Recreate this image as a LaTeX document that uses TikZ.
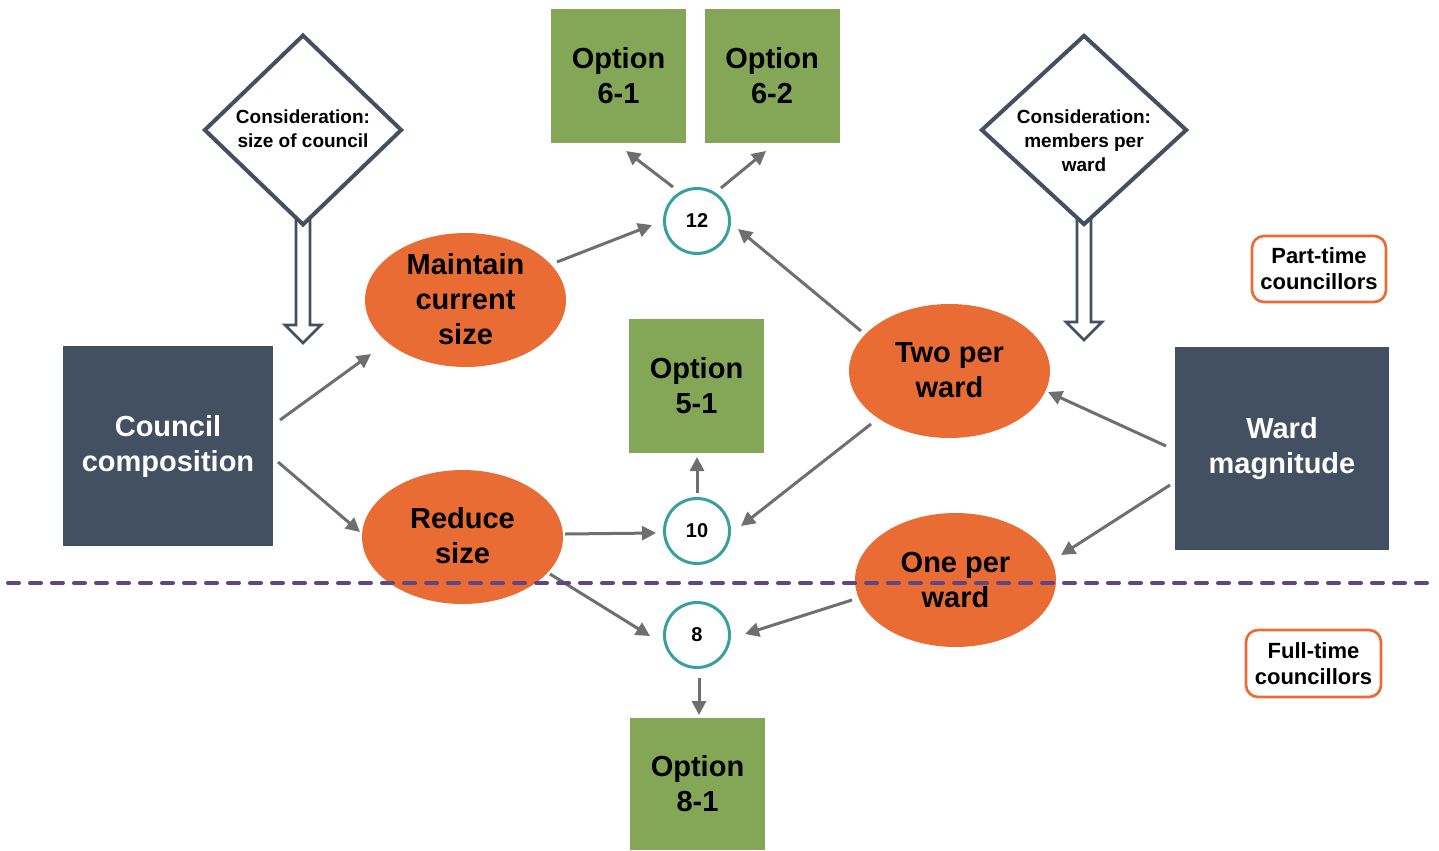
\documentclass[tikz,border=0pt]{standalone}
\usepackage{fontspec}
\setmainfont{Liberation Sans}
\usetikzlibrary{shapes.geometric,arrows.meta}
\definecolor{slate}{HTML}{435062}
\definecolor{optgreen}{HTML}{83A756}
\definecolor{oran}{HTML}{E96C35}
\definecolor{tealc}{HTML}{3A9FA0}
\definecolor{arrgray}{HTML}{6F6F6F}
\definecolor{purp}{HTML}{5D4785}
\tikzset{
  bigtext/.style={font=\bfseries\fontsize{21.75}{26.25}\selectfont, align=center, inner sep=0pt},
  slatebox/.style={rectangle, fill=slate, text=white, bigtext},
  optbox/.style={rectangle, fill=optgreen, text=black, bigtext, minimum width=101.25pt, minimum height=100.5pt},
  oval/.style={ellipse, fill=oran, minimum width=150.75pt, minimum height=100.5pt, inner sep=0pt},
  ovaltext/.style={bigtext, text=black},
  numcirc/.style={circle, draw=tealc, line width=2.25pt, fill=white, minimum size=48.75pt, inner sep=0pt, font=\bfseries\fontsize{15}{17}\selectfont},
  consid/.style={diamond, draw=slate, line width=3pt, fill=white, inner sep=0pt, miter limit=10},
  considtext/.style={font=\bfseries\fontsize{14.25}{18}\selectfont, align=center, inner sep=0pt},
  hollow/.style={draw=slate, line width=2pt, fill=white, line join=miter},
  tagbox/.style={rectangle, rounded corners=9pt, draw=oran, line width=2pt, fill=white, font=\bfseries\fontsize{16.5}{19.5}\selectfont, align=center},
  arr/.style={draw=arrgray, line width=2.25pt, -{Triangle[length=10.5pt,width=10.5pt]}},
  divider/.style={draw=purp, line width=3pt, line cap=round, dash pattern=on 8.25pt off 8.25pt}
}
\begin{document}
\begin{tikzpicture}[x=0.75pt,y=-0.75pt]
\useasboundingbox (0,0) rectangle (1439,850);

% hollow arrows (behind diamonds)
\coordinate (h1) at (303,225);
\coordinate (h2) at (1084,222);
\draw[hollow] ([shift={(-7,-8)}]h1) -- ++(0,108) -- ++(-11,0) -- ++(18,18) -- ++(18,-18) -- ++(-11,0) -- ++(0,-108) -- cycle;
\draw[hollow] ([shift={(-7,-8)}]h2) -- ++(0,108) -- ++(-11,0) -- ++(18,18) -- ++(18,-18) -- ++(-11,0) -- ++(0,-108) -- cycle;

% diamonds
\node[consid, minimum width=148.5pt, minimum height=143pt] (d1) at (303,130) {};
\node[considtext] (d1t) at (303,129) {Consideration:\\size of council};
\node[consid, minimum width=154.5pt, minimum height=142.5pt] (d2) at (1084,130) {};
\node[considtext] (d2t) at (1084,141) {Consideration:\\members per\\ward};

% main boxes
\node[slatebox, minimum width=157.5pt, minimum height=150pt] (council) at (168,446) {Council\\composition};
\node[slatebox, minimum width=160.5pt, minimum height=152.25pt] (ward) at (1282,448.5) {Ward\\magnitude};

% ellipses
\node[oval] (maintain) at (465.5,300) {};
\node[ovaltext] (maintaint) at (465.5,299) {Maintain\\current\\size};
\node[oval] (reduce) at (462.5,537) {};
\node[ovaltext] (reducet) at (462.5,536) {Reduce\\size};
\node[oval] (two) at (949.5,371) {};
\node[ovaltext] (twot) at (949.5,370) {Two per\\ward};
\node[oval] (one) at (955.5,580) {};
\node[ovaltext] (onet) at (955.5,580) {One per\\ward};

% option boxes
\node[optbox] (opt61) at (618.5,76) {Option\\6-1};
\node[optbox] (opt62) at (772,76) {Option\\6-2};
\node[optbox] (opt51) at (696.5,386) {Option\\5-1};
\node[optbox, minimum height=99pt] (opt81) at (697.5,784) {Option\\8-1};

% number circles
\node[numcirc] (c12) at (697,221) {12};
\node[numcirc] (c10) at (697,531) {10};
\node[numcirc] (c8) at (697,635) {8};

% tags
\node[tagbox, minimum width=100.5pt, minimum height=49.5pt] (part) at (1319,269) {Part-time\\councillors};
\node[tagbox, minimum width=101.25pt, minimum height=50.25pt] (full) at (1313.5,663.5) {Full-time\\councillors};

% arrows
\draw[arr] ([shift={(112,-26)}]council.center) -- ([shift={(-94.5,54)}]maintain.center);
\draw[arr] ([shift={(110,16)}]council.center) -- ([shift={(-102.5,-5)}]reduce.center);
\draw[arr] ([shift={(91.5,-38)}]maintain.center) -- ([shift={(-45,4)}]c12.center);
\draw[arr] ([shift={(102.5,-3)}]reduce.center) -- ([shift={(-41,2)}]c10.center);
\draw[arr] ([shift={(87.5,37)}]reduce.center) -- ([shift={(-47,1)}]c8.center);
\draw[arr] ([shift={(-24,-34)}]c12.center) -- ([shift={(7.5,75)}]opt61.center);
\draw[arr] ([shift={(24,-33)}]c12.center) -- ([shift={(-6,75)}]opt62.center);
\draw[arr] ([shift={(0,-38)}]c10.center) -- ([shift={(0.5,71)}]opt51.center);
\draw[arr] ([shift={(2,43)}]c8.center) -- ([shift={(1.5,-69)}]opt81.center);
\draw[arr] ([shift={(-88.5,-40)}]two.center) -- ([shift={(41,8)}]c12.center);
\draw[arr] ([shift={(-78.5,53)}]two.center) -- ([shift={(44,-5)}]c10.center);
\draw[arr] ([shift={(-103.5,20)}]one.center) -- ([shift={(48,-1)}]c8.center);
\draw[arr] ([shift={(-116,-2.5)}]ward.center) -- ([shift={(98.5,21)}]two.center);
\draw[arr] ([shift={(-112,36.5)}]ward.center) -- ([shift={(105.5,-25)}]one.center);

% divider
\coordinate (dl) at (8,583);
\coordinate (dr) at (1432,583);
\draw[divider] (dl) -- (dr);
\end{tikzpicture}
\end{document}
